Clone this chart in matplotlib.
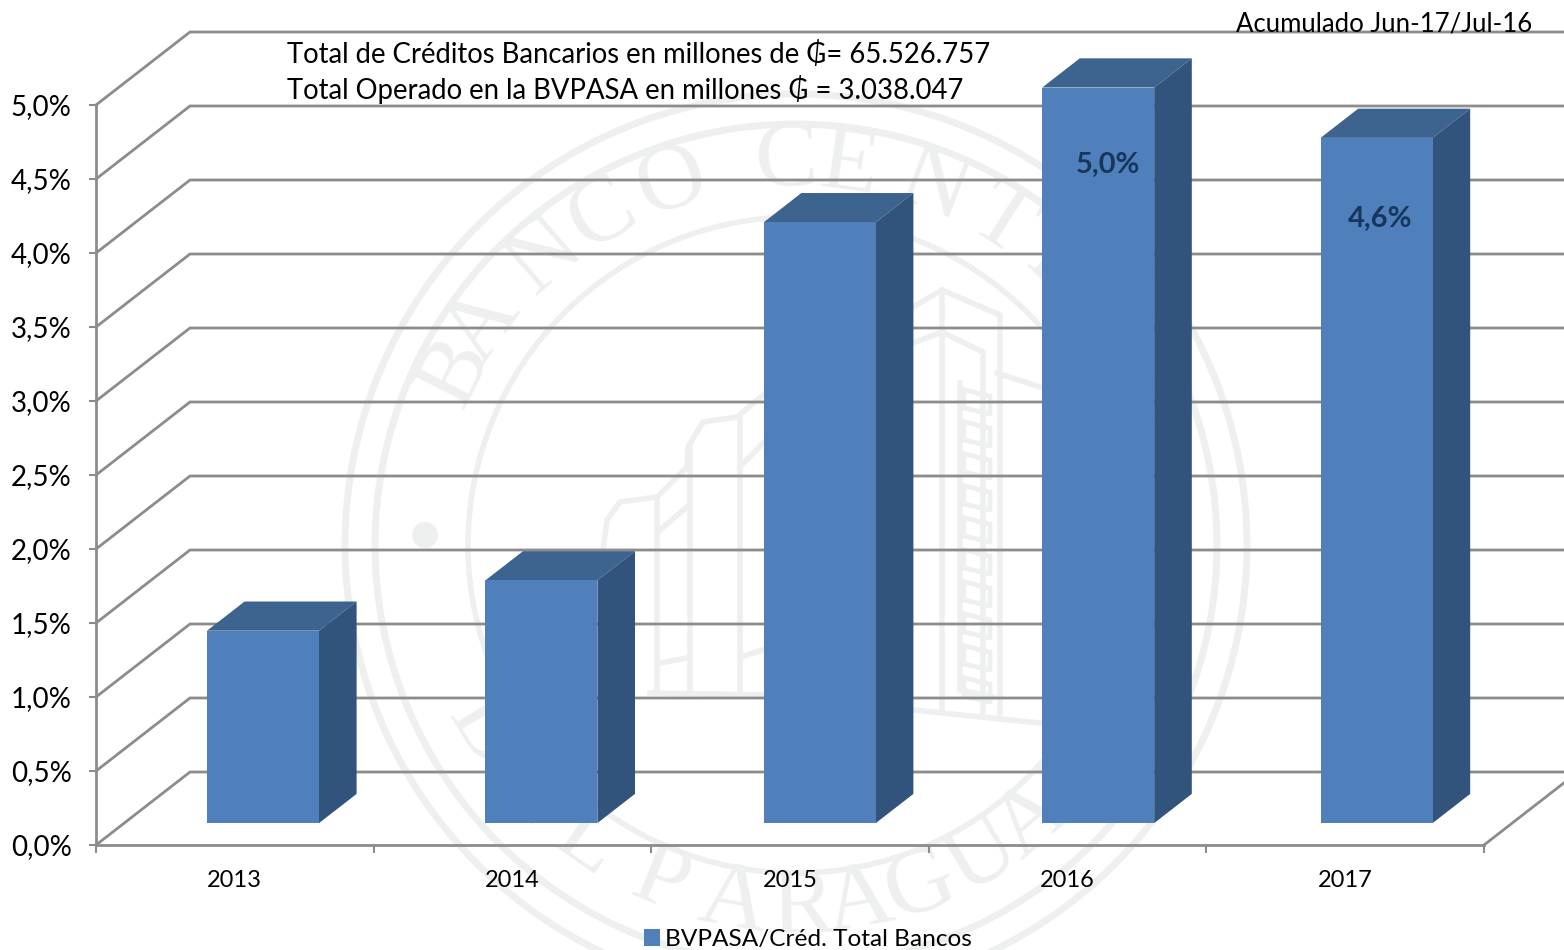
import numpy as np
import matplotlib
matplotlib.use("Agg")
import matplotlib.pyplot as plt
from matplotlib.patches import Polygon, Circle, Patch

plt.rcParams['font.family'] = ['Lato', 'DejaVu Sans']

years = ['2013', '2014', '2015', '2016', '2017']
values = [1.30, 1.64, 4.06, 4.97, 4.63]
value_labels = {3: '5,0%', 4: '4,6%'}
y_ticks = [0.0, 0.5, 1.0, 1.5, 2.0, 2.5, 3.0, 3.5, 4.0, 4.5, 5.0]
y_tick_labels = ['0,0%', '0,5%', '1,0%', '1,5%', '2,0%', '2,5%', '3,0%', '3,5%', '4,0%', '4,5%', '5,0%']
legend_label = 'BVPASA/Créd. Total Bancos'
info_lines = ['Total de Créditos Bancarios en millones de ₲= 65.526.757',
              'Total Operado en la BVPASA en millones ₲ = 3.038.047']
period_label = 'Acumulado Jun-17/Jul-16'

W, H = 1564, 950
fig = plt.figure(figsize=(W / 100, H / 100), dpi=100, facecolor='white')

# ---- watermark seal (background, pixel coordinates) ----
bg = fig.add_axes([0, 0, 1, 1], zorder=0)
bg.set_xlim(0, W); bg.set_ylim(H, 0); bg.axis('off')
SEAL = '#edf0ef'
cx, cy = 796, 545
for r, lw in [(451, 5), (421, 5), (328, 4)]:
    bg.add_patch(Circle((cx, cy), r, fill=False, ec=SEAL, lw=lw))
bg.add_patch(Circle((425, 535), 13, fc=SEAL, ec='none'))
top_letters = list('BANCO') + list('CENTRAL')
top_angles = [153, 145, 131, 120.5, 109, 91.5, 82, 69, 57.5, 46, 34, 22]
for ch, a in zip(top_letters, top_angles):
    t = np.deg2rad(a)
    bg.text(cx + 382 * np.cos(t), cy - 382 * np.sin(t), ch, family='Liberation Serif',
            fontsize=68, color=SEAL, rotation=a - 90, ha='center', va='center',
            rotation_mode='anchor')
bot_letters = list('DEL') + list('PARAGUAY')
bot_angles = [211, 223, 235, 248, 260, 271, 280, 290, 301, 310.5, 321]
for ch, a in zip(bot_letters, bot_angles):
    t = np.deg2rad(a)
    bg.text(cx + 364 * np.cos(t), cy - 364 * np.sin(t), ch, family='Liberation Serif',
            fontsize=68, color=SEAL, rotation=a - 270, ha='center', va='center',
            rotation_mode='anchor')
building = [
    [(603, 700), (603, 550), (607, 520), (620, 502), (657, 497), (687, 467), (688, 447), (703, 422),
     (737, 417), (763, 395), (942, 290), (1000, 315), (1000, 713)],
    [(657, 497), (657, 693)],
    [(690, 447), (690, 693)],
    [(740, 417), (740, 693)],
    [(942, 290), (942, 710)],
    [(650, 693), (763, 695), (913, 710), (1040, 723)],
    [(660, 530), (687, 507)],
    [(740, 467), (763, 443)],
    [(660, 663), (687, 658)],
    [(740, 657), (763, 650)],
    [(913, 343), (942, 332), (983, 352), (983, 713)],
    [(960, 383), (960, 690), (993, 697)],
    [(997, 373), (1040, 387)],
]
for line in building:
    xs, ys = zip(*line)
    bg.plot(xs, ys, color=SEAL, lw=4, solid_joinstyle='round')
for y in range(390, 680, 32):
    bg.plot([964, 990, 990, 964, 964], [y, y + 6, y + 24, y + 18, y], color=SEAL, lw=3.5)

# ---- chart axes: front plane ----
L, R, T, B = 96, 1484, 105, 845
ax = fig.add_axes([L / W, 1 - B / H, (R - L) / W, (B - T) / H], zorder=1)
ax.patch.set_alpha(0)
x = np.arange(len(years))
ax.set_xlim(-0.5, len(years) - 0.5)
ax.set_ylim(0, 5)

DX = 94 / 277.6    # one unit of depth, in category units
DY = 73 / 148      # one unit of depth, in percent units
GRID = '#8c8c8c'
FRONT, TOP, SIDE = '#4f80bc', '#3d638f', '#32537b'
BAR_W = 112 / 277.6
BAR_STEP = 278.4 / 277.6
D0, D1 = 0.30, 0.70
label_offsets = {3: (7, -56), 4: (2.5, -58)}

# back wall and side wall lines
x0, x1 = ax.get_xlim()
for v in y_ticks:
    ax.plot([x0, x0 + DX, x1 + DX], [v, v + DY, v + DY], color=GRID, lw=2,
            clip_on=False, zorder=1, solid_joinstyle='miter')
ax.plot([x1, x1 + DX], [0, DY], color=GRID, lw=2, clip_on=False, zorder=1)

# bars
bar_x = x * BAR_STEP + D0 * DX
ax.bar(bar_x, values, width=BAR_W, bottom=D0 * DY, color=FRONT, zorder=4,
       edgecolor='none', clip_on=False)
for xi, v in zip(bar_x, values):
    l = xi - BAR_W / 2
    r = l + BAR_W
    base = D0 * DY
    ddx, ddy = (D1 - D0) * DX, (D1 - D0) * DY
    ax.add_patch(Polygon([(l, base + v), (r, base + v), (r + ddx, base + v + ddy), (l + ddx, base + v + ddy)],
                         fc=TOP, ec='none', zorder=3, clip_on=False))
    ax.add_patch(Polygon([(r, base), (r + ddx, base + ddy), (r + ddx, base + v + ddy), (r, base + v)],
                         fc=SIDE, ec='none', zorder=3, clip_on=False))
for i, lab in value_labels.items():
    ax.annotate(lab, (bar_x[i], D0 * DY + values[i]), xytext=label_offsets[i],
                textcoords='offset points', ha='center', va='center', fontsize=21,
                fontweight='bold', color='#17365d', zorder=5, annotation_clip=False)

# axes lines and ticks
for s in ['top', 'right']:
    ax.spines[s].set_visible(False)
for s in ['left', 'bottom']:
    ax.spines[s].set_color(GRID)
    ax.spines[s].set_linewidth(2)
ax.set_yticks(y_ticks)
ax.set_yticklabels(y_tick_labels, fontsize=20, color='black')
ax.tick_params(axis='y', direction='out', length=5, width=1.5, color=GRID, pad=12.5)
ax.set_xticks(np.arange(len(years) + 1) - 0.5)
ax.set_xticklabels([])
ax.tick_params(axis='x', which='major', direction='out', length=6, width=1.5, color=GRID)
ax.set_xticks(x, minor=True)
ax.set_xticklabels(years, minor=True, fontsize=17, color='black')
ax.tick_params(axis='x', which='minor', length=0, pad=18)

# texts
fig.text(287 / W, 1 - 54.5 / H, info_lines[0], fontsize=19.85, va='center', ha='left', color='black', zorder=6)
fig.text(287 / W, 1 - 89.5 / H, info_lines[1], fontsize=19.85, va='center', ha='left', color='black', zorder=6)
fig.text(1532 / W, 1 - 24 / H, period_label, fontsize=18.55, va='center', ha='right', color='black', zorder=6)

fig.legend(handles=[Patch(fc=FRONT, ec='none', label=legend_label)], loc='center',
           bbox_to_anchor=(808 / W, 1 - 939.5 / H), frameon=False, fontsize=17.6,
           handlelength=0.65, handleheight=0.65, handletextpad=0.2, labelcolor='black')

fig.savefig('out.png', dpi=100, facecolor='white')
